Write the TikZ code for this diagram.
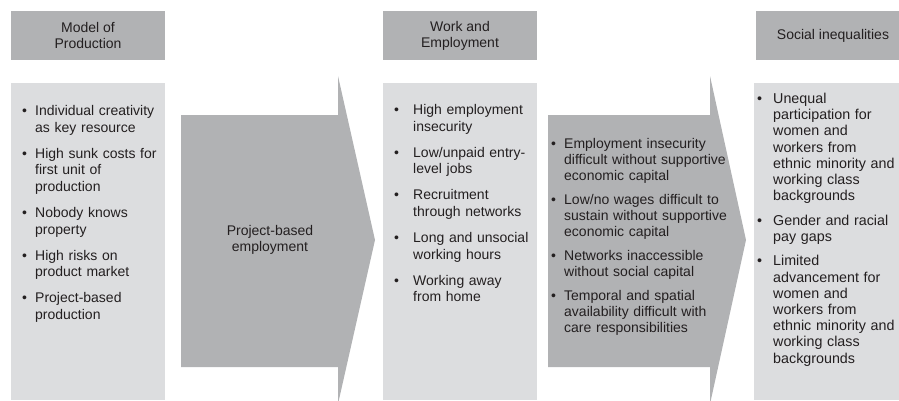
\documentclass[tikz,border=0pt]{standalone}
\usepackage{fontspec}
\setmainfont{Liberation Sans}
\usetikzlibrary{positioning}

\definecolor{headgrey}{HTML}{B1B2B4}
\definecolor{colgrey}{HTML}{DCDDDF}
\definecolor{inkgrey}{HTML}{231F20}

% one bullet point with hanging indent
\newcommand{\blt}[2][13pt]{\hangindent=#1\hangafter=1\noindent\makebox[#1][l]{\textbullet}#2\par}

\begin{document}
\begin{tikzpicture}[x=1pt,y=-1pt,every node/.style={text=inkgrey,font=\fontsize{14}{16}\selectfont},
  header/.style={fill=headgrey,minimum width=154pt,minimum height=49pt,align=center,inner sep=0pt},
  column/.style={fill=colgrey,anchor=north west,minimum width=154pt,minimum height=317pt,inner sep=0pt},
  listbox/.style={anchor=north west,inner sep=0pt,text width=#1},
  arrowbody/.style={fill=headgrey}
]
\useasboundingbox (0,0) rectangle (899,400);
\clip (0,0) rectangle (899,400);

% headers
\node[header] (model) at (88,35.5) {Model of\\Production};
\node[header] (work) at (460,35.5) {Work and\\Employment};
\node[header] (social) at (833,35.5) {Social inequalities};

% columns
\node[column] (prodcol) at (11,83) {};
\node[column] (workcol) at (383,83) {};
\node[column] (socialcol) at (754,83) {};

% arrows
\fill[arrowbody] (181,115) -- (338,115) -- (338,76) -- (375,240) -- (338,404) -- (338,367) -- (181,367) -- cycle;
\fill[arrowbody] (548,115) -- (710,115) -- (710,76) -- (746,240) -- (710,404) -- (710,367) -- (548,367) -- cycle;

\node[align=center] (projemp) at (270,239.5) {Project-based\\employment};

% lists
\node[listbox=150pt] (prodlist) at (22,105) {\fontsize{14}{16.7}\selectfont\setlength{\parskip}{9.3pt}%
\blt[13pt]{Individual creativity\newline as key resource}
\blt[13pt]{High sunk costs for\newline first unit of\newline production}
\blt[13pt]{Nobody knows\newline property}
\blt[13pt]{High risks on\newline product market}
\blt[13pt]{Project-based\newline production}};

\node[listbox=150pt] (worklist) at (394,104) {\fontsize{14}{16.7}\selectfont\setlength{\parskip}{9.3pt}%
\blt[19pt]{High employment\newline insecurity}
\blt[19pt]{Low/unpaid entry-\newline level jobs}
\blt[19pt]{Recruitment\newline through networks}
\blt[19pt]{Long and unsocial\newline working hours}
\blt[19pt]{Working away\newline from home}};

\node[listbox=190pt] (caplist) at (551,138) {\fontsize{14}{16}\selectfont\setlength{\parskip}{8pt}%
\blt[13pt]{Employment insecurity\newline difficult without supportive\newline economic capital}
\blt[13pt]{Low/no wages difficult to\newline sustain without supportive\newline economic capital}
\blt[13pt]{Networks inaccessible\newline without social capital}
\blt[13pt]{Temporal and spatial\newline availability difficult with\newline care responsibilities}};

\node[listbox=160pt] (sociallist) at (757,93) {\fontsize{14.3}{16.2}\selectfont\setlength{\parskip}{8.3pt}%
\blt[16pt]{Unequal\newline participation for\newline women and\newline workers from\newline ethnic minority and\newline working class\newline backgrounds}
\blt[16pt]{Gender and racial\newline pay gaps}
\blt[16pt]{Limited\newline advancement for\newline women and\newline workers from\newline ethnic minority and\newline working class\newline backgrounds}};
\end{tikzpicture}
\end{document}
